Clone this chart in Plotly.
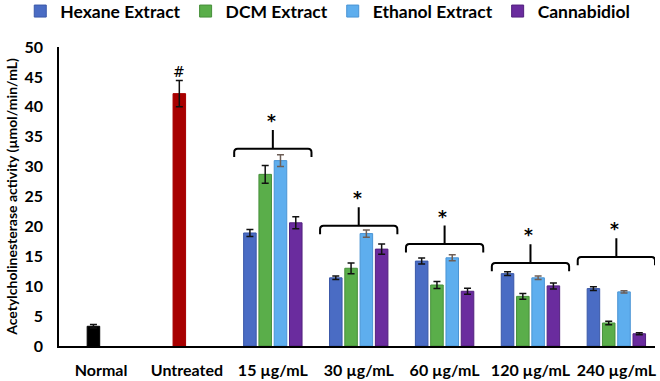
import plotly.graph_objects as go

# ---------------- data ----------------
categories = ["Normal", "Untreated", "15 µg/mL", "30 µg/mL", "60 µg/mL", "120 µg/mL", "240 µg/mL"]
control_labels = ["Normal", "Untreated"]
control_values = [3.3, 42.2]
control_errors = [0.3, 2.2]

dose_labels = ["15 µg/mL", "30 µg/mL", "60 µg/mL", "120 µg/mL", "240 µg/mL"]
hexane = [18.9, 11.4, 14.2, 12.1, 9.6]
hexane_err = [0.6, 0.3, 0.5, 0.3, 0.3]
dcm = [28.7, 13.0, 10.2, 8.3, 3.85]
dcm_err = [1.5, 0.9, 0.6, 0.5, 0.3]
ethanol = [31.0, 18.8, 14.75, 11.4, 9.05]
ethanol_err = [1.0, 0.6, 0.5, 0.3, 0.2]
cbd = [20.6, 16.2, 9.15, 10.05, 2.05]
cbd_err = [1.0, 0.85, 0.5, 0.5, 0.15]

series_names = ["Hexane Extract", "DCM Extract", "Ethanol Extract", "Cannabidiol"]
series_values = [hexane, dcm, ethanol, cbd]
series_errors = [hexane_err, dcm_err, ethanol_err, cbd_err]

# significance bracket level (horizontal bar height, data units) per dose group
bracket_levels = [33.0, 20.1, 17.05, 13.9, 14.9]

# ---------------- styles ----------------
FONT = "Lato"
INK = "#000000"
series_colors = ["#4a6cc4", "#5aae4a", "#5eaeee", "#6a2c9e"]
series_lines = ["#3a58a8", "#468f3a", "#4a94d4", "#52207e"]
err_colors = ["#111111", "#111111", "#6e5e56", "#111111"]
control_colors = ["#000000", "#a80000"]

bar_w = 0.146
slot_centers = [-0.267, -0.089, 0.089, 0.267]

cat_index = {c: i for i, c in enumerate(categories)}

fig = go.Figure()

# control bars (sit in the 2nd slot of their category)
fig.add_trace(go.Bar(
    x=[cat_index[c] for c in control_labels],
    y=control_values,
    offset=slot_centers[1] - bar_w / 2,
    width=bar_w,
    marker=dict(color=control_colors, line=dict(color=control_colors, width=1)),
    error_y=dict(type="data", array=control_errors, color="#111111", thickness=1.5, width=3.5),
    showlegend=False,
    hoverinfo="skip",
))

for name, vals, errs, col, lcol, ecol, sc in zip(series_names, series_values, series_errors,
                                                 series_colors, series_lines, err_colors, slot_centers):
    fig.add_trace(go.Bar(
        name=name,
        x=[cat_index[c] for c in dose_labels],
        y=vals,
        offset=sc - bar_w / 2,
        width=bar_w,
        marker=dict(color=col, line=dict(color=lcol, width=1)),
        error_y=dict(type="data", array=errs, color=ecol, thickness=1.5, width=3.5),
    ))

# ---------------- brackets and markers ----------------
half = 0.45
rx, ry = 0.04, 0.6
drop, stem = 1.4, 3.1
for lab, lvl in zip(dose_labels, bracket_levels):
    xc = cat_index[lab]
    xl, xr = xc - half, xc + half
    path = (f"M {xl},{lvl - drop} L {xl},{lvl - ry} Q {xl},{lvl} {xl + rx},{lvl} "
            f"L {xr - rx},{lvl} Q {xr},{lvl} {xr},{lvl - ry} L {xr},{lvl - drop} "
            f"M {xc},{lvl} L {xc},{lvl + stem}")
    fig.add_shape(type="path", path=path, xref="x", yref="y",
                  line=dict(color=INK, width=2))
    fig.add_annotation(x=xc - 0.02, y=lvl + stem, xref="x", yref="y", text="*",
                       showarrow=False, yanchor="bottom", yshift=-3,
                       font=dict(family="DejaVu Sans", size=17, color=INK, weight="bold"))

ui = control_labels.index("Untreated")
fig.add_annotation(x=cat_index["Untreated"] + slot_centers[1],
                   y=control_values[ui] + control_errors[ui], xref="x", yref="y",
                   text="#", showarrow=False, yanchor="bottom", yshift=-2,
                   font=dict(family="DejaVu Serif", size=14, color=INK))

fig.update_layout(
    width=660, height=381,
    margin=dict(l=59, r=5, t=47, b=35, autoexpand=False),
    paper_bgcolor="white", plot_bgcolor="white",
    barmode="overlay",
    font=dict(family=FONT, color=INK),
    legend=dict(orientation="h", x=-0.065, xanchor="left", y=1.18, yanchor="top",
                font=dict(family=FONT, size=17.5, color=INK, weight="bold"),
                bgcolor="rgba(0,0,0,0)", itemclick=False),
    xaxis=dict(
        range=[-0.49, 6.45], automargin=False,
        tickmode="array", tickvals=list(range(len(categories))), ticktext=categories,
        showline=True, linecolor=INK, linewidth=1.5,
        showgrid=False, zeroline=False, ticks="",
        ticklabelstandoff=9,
        tickfont=dict(family=FONT, size=16, color=INK, weight="bold"),
    ),
    yaxis=dict(
        range=[0, 50], tickmode="linear", tick0=0, dtick=5, automargin=False,
        showline=True, linecolor=INK, linewidth=1.5,
        showgrid=False, zeroline=False, ticks="",
        ticklabelstandoff=11,
        tickfont=dict(family=FONT, size=16, color=INK, weight="bold"),
        title=dict(text="Acetylcholinesterase activity (µmol/min/mL)", standoff=4,
                   font=dict(family=FONT, size=14, color=INK, weight="bold")),
    ),
)

# remove the browser's default page margin so the figure sits at the window's corner
fig.write_html("out.html", config={"displayModeBar": False},
               post_script="document.body.style.margin='0';")
